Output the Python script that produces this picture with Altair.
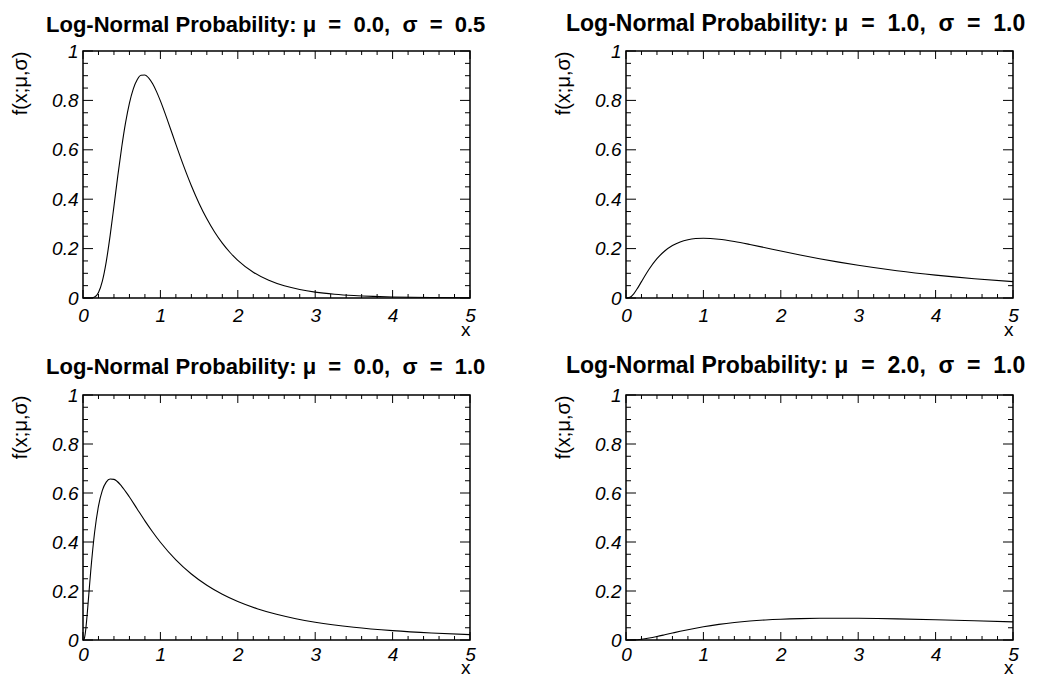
import altair as alt
import pandas as pd

W = 387
FONT = "Liberation Sans"
SP = "\u2007"

titles = [
    "Log-Normal Probability: μ" + SP + "=" + SP + "0.0," + SP + "σ" + SP + "=" + SP + "0.5",
    "Log-Normal Probability: μ" + SP + "=" + SP + "1.0," + SP + "σ" + SP + "=" + SP + "1.0",
    "Log-Normal Probability: μ" + SP + "=" + SP + "0.0," + SP + "σ" + SP + "=" + SP + "1.0",
    "Log-Normal Probability: μ" + SP + "=" + SP + "2.0," + SP + "σ" + SP + "=" + SP + "1.0",
]

# Panel 1: mu = 0.0, sigma = 0.5
x1 = [0, 0.1, 0.15, 0.2, 0.25, 0.3, 0.35, 0.4, 0.45, 0.5, 0.55, 0.6, 0.65, 0.7, 0.75, 0.8,
      0.85, 0.9, 0.95, 1.0, 1.1, 1.2, 1.3, 1.4, 1.5, 1.6, 1.7, 1.8, 1.9, 2.0, 2.2, 2.4, 2.6,
      2.8, 3.0, 3.25, 3.5, 3.75, 4.0, 4.5, 5.0]
y1 = [0, 0.0002, 0.004, 0.0225, 0.0684, 0.1465, 0.2516, 0.3721, 0.4953, 0.6104, 0.7098,
      0.7891, 0.8469, 0.8838, 0.9016, 0.9028, 0.8904, 0.8671, 0.8355, 0.7979, 0.7123, 0.6221,
      0.5348, 0.4544, 0.3829, 0.3206, 0.2673, 0.2221, 0.1842, 0.1526, 0.1046, 0.0718, 0.0494,
      0.0342, 0.0238, 0.0153, 0.0099, 0.0065, 0.0043, 0.0019, 0.0009]

# Panel 2: mu = 1.0, sigma = 1.0
x2 = [0, 0.02, 0.05, 0.1, 0.15, 0.2, 0.3, 0.4, 0.5, 0.6, 0.7, 0.8, 0.9, 1.0, 1.2, 1.4, 1.6,
      1.8, 2.0, 2.25, 2.5, 2.75, 3.0, 3.5, 4.0, 4.5, 5.0]
y2 = [0, 0.0001, 0.0027, 0.0171, 0.0400, 0.0663, 0.1172, 0.1591, 0.1903, 0.2124, 0.2271,
      0.2360, 0.2406, 0.2420, 0.2380, 0.2287, 0.2167, 0.2036, 0.1903, 0.1742, 0.1590, 0.1451,
      0.1323, 0.1104, 0.0926, 0.0781, 0.0663]

# Panel 3: mu = 0.0, sigma = 1.0
x3 = [0, 0.01, 0.02, 0.03, 0.05, 0.075, 0.1, 0.15, 0.2, 0.25, 0.3, 0.35, 0.4, 0.5, 0.6, 0.7,
      0.8, 0.9, 1.0, 1.2, 1.4, 1.6, 1.8, 2.0, 2.25, 2.5, 2.75, 3.0, 3.5, 4.0, 4.5, 5.0]
y3 = [0, 0.001, 0.0095, 0.0284, 0.0898, 0.1858, 0.2815, 0.4399, 0.5463, 0.6104, 0.6442,
      0.6569, 0.6555, 0.6275, 0.5836, 0.5348, 0.4864, 0.4408, 0.3989, 0.3270, 0.2693, 0.2233,
      0.1865, 0.1569, 0.1276, 0.1049, 0.0870, 0.0727, 0.0520, 0.0382, 0.0286, 0.0219]

# Panel 4: mu = 2.0, sigma = 1.0
x4 = [0, 0.1, 0.2, 0.3, 0.4, 0.5, 0.6, 0.7, 0.8, 0.9, 1.0, 1.2, 1.4, 1.6, 1.8, 2.0, 2.25,
      2.5, 2.75, 3.0, 3.25, 3.5, 4.0, 4.5, 5.0]
y4 = [0, 0.0004, 0.0030, 0.0079, 0.0142, 0.0212, 0.0284, 0.0355, 0.0421, 0.0483, 0.0540,
      0.0637, 0.0714, 0.0774, 0.0818, 0.0849, 0.0874, 0.0887, 0.0890, 0.0886, 0.0876, 0.0862,
      0.0826, 0.0784, 0.0739]

# axis tick positions
x_major = [0, 1, 2, 3, 4, 5]
x_minor = [0.2, 0.4, 0.6, 0.8, 1.2, 1.4, 1.6, 1.8, 2.2, 2.4, 2.6, 2.8, 3.2, 3.4, 3.6, 3.8,
           4.2, 4.4, 4.6, 4.8]
y_major = [0, 0.2, 0.4, 0.6, 0.8, 1.0]
y_minor = [0.05, 0.1, 0.15, 0.25, 0.3, 0.35, 0.45, 0.5, 0.55, 0.65, 0.7, 0.75, 0.85, 0.9, 0.95]


def panel(xs, ys, title, H, title_dx, title_offset, title_size, xlab_pad, xtitle_y):
    xscale = alt.Scale(domain=[0, 5], nice=False, zero=False)
    yscale = alt.Scale(domain=[0, 1], nice=False, zero=False)
    xaxis = alt.Axis(values=x_major, format="~g", ticks=False, domain=False, grid=False,
                     labelFont=FONT, labelFontStyle="italic", labelFontSize=19,
                     labelColor="black", labelPadding=xlab_pad, labelFlush=False,
                     labelOverlap=False, labelBound=False,
                     title="x", titleFont=FONT, titleFontSize=19, titleFontWeight="normal",
                     titleColor="black", titleX=W, titleY=xtitle_y, titleAlign="right",
                     titleBaseline="alphabetic", titleAngle=0)
    yaxis = alt.Axis(values=y_major, format="~g", ticks=False, domain=False, grid=False,
                     labelFont=FONT, labelFontStyle="italic", labelFontSize=19,
                     labelColor="black", labelPadding=5, labelFlush=False,
                     labelOverlap=False, labelBound=False,
                     title="f(x;μ,σ)", titleFont=FONT, titleFontSize=20,
                     titleFontWeight="normal", titleColor="black", titleX=-63, titleY=0,
                     titleAlign="right", titleBaseline="middle", titleAngle=270)
    X = alt.X("x:Q", scale=xscale, axis=xaxis)
    Y = alt.Y("y:Q", scale=yscale, axis=yaxis)

    curve = pd.DataFrame({"x": xs, "y": ys})
    layers = [alt.Chart(curve).mark_line(color="black", strokeWidth=1.1,
                                         interpolate="monotone").encode(x=X, y=Y)]

    def xticks(vals, length):
        d = pd.DataFrame({"x": vals})
        r = alt.Chart(d).mark_rule(color="black", strokeWidth=1)
        return [r.encode(x=X, y=alt.value(H), y2=alt.value(H - length)),
                r.encode(x=X, y=alt.value(0), y2=alt.value(length))]

    def yticks(vals, length):
        d = pd.DataFrame({"y": vals})
        r = alt.Chart(d).mark_rule(color="black", strokeWidth=1)
        return [r.encode(y=Y, x=alt.value(0), x2=alt.value(length)),
                r.encode(y=Y, x=alt.value(W), x2=alt.value(W - length))]

    layers += xticks(x_major, 8) + xticks(x_minor, 4)
    layers += yticks(y_major, 10) + yticks(y_minor, 5)

    return alt.layer(*layers).properties(
        width=W, height=H,
        title=alt.TitleParams(text=title, anchor="start", frame="group", dx=title_dx,
                              offset=title_offset, font=FONT, fontSize=title_size,
                              fontWeight="bold", color="black", baseline="alphabetic"),
    )


p1 = panel(x1, y1, titles[0], 247, -37, -12, 22, 8, 37)
p2 = panel(x2, y2, titles[1], 247, -60, -12, 23, 8, 37)
p3 = panel(x3, y3, titles[2], 245, -37, -10, 22, 5, 33)
p4 = panel(x4, y4, titles[3], 245, -60, -10, 23, 5, 33)

chart = alt.concat(p1, p2, p3, p4, columns=2, spacing={"row": 97, "column": 156},
                   bounds="flush").properties(
    padding={"left": 1, "top": 4, "right": 0, "bottom": 0},
    background="white",
).configure_view(stroke="black", strokeWidth=1.5)

chart.save("out.html", embed_options={"renderer": "svg", "actions": False})
